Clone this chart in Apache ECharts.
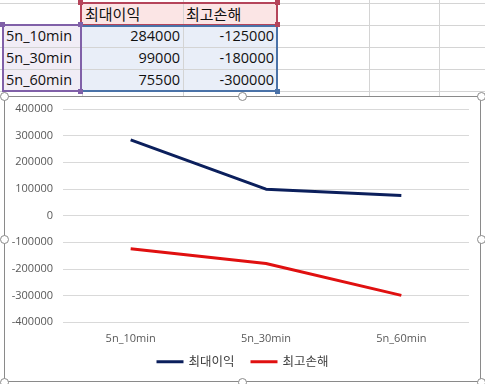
<!DOCTYPE html>
<html><head><meta charset="utf-8">
<script src="https://cdn.jsdelivr.net/npm/echarts@6/dist/echarts.min.js"></script>
<style>
html,body{margin:0;padding:0;background:#fff;width:485px;height:384px;overflow:hidden;position:relative;font-family:"Noto Sans CJK KR","Noto Sans",sans-serif;}
.h{position:absolute;left:0;width:485px;height:1px;background:#d4d4d4;}
.v{position:absolute;top:0;width:1px;height:96px;background:#d4d4d4;}
.cell{position:absolute;font-size:15px;line-height:22px;color:#111;white-space:nowrap;}
.box{position:absolute;box-sizing:border-box;border:2px solid;}
.sq{position:absolute;width:5px;height:5px;}
.hd{position:absolute;width:9px;height:9px;border-radius:50%;border:1.5px solid #8a8a8a;background:#fff;box-sizing:border-box;z-index:5;}
#chart{position:absolute;left:4px;top:96px;width:477px;height:286px;border:1.5px solid #8a8a8a;box-sizing:border-box;background:#fff;}
</style></head><body>
<div id="sheet"></div>
<div id="chart"></div>
<script>
var categories = ['5n_10min', '5n_30min', '5n_60min'];
var seriesNames = ['최대이익', '최고손해'];
var maxProfit = [284000, 99000, 75500];
var maxLoss = [-125000, -180000, -300000];

(function(){
var sheet = document.getElementById('sheet');
function add(html){ sheet.insertAdjacentHTML('beforeend', html); }
[3,25,47,69,91].forEach(function(y){ add('<div class="h" style="top:'+y+'px"></div>'); });
[82,183,276,369,439].forEach(function(x){ add('<div class="v" style="left:'+x+'px"></div>'); });
add('<div style="position:absolute;left:81px;top:3px;width:196px;height:22px;background:#fbe5e5"></div>');
add('<div style="position:absolute;left:81px;top:25px;width:196px;height:66px;background:#e9eef8"></div>');
add('<div style="position:absolute;left:3px;top:25px;width:78px;height:66px;background:#f1edf6"></div>');
[47,69].forEach(function(y){ add('<div style="position:absolute;left:3px;top:'+y+'px;width:274px;height:1px;background:#d4d4d4"></div>'); });
add('<div style="position:absolute;left:183px;top:3px;width:1px;height:88px;background:#d4d4d4"></div>');
add('<div class="cell" style="left:85px;top:3px">'+seriesNames[0]+'</div>');
add('<div class="cell" style="left:186px;top:3px">'+seriesNames[1]+'</div>');
var lf = "font-family:'Open Sans','Noto Sans',sans-serif;font-size:14.5px;";
for (var i=0;i<categories.length;i++){
  var ty = 25 + i*22;
  add('<div class="cell" style="left:6px;top:'+ty+'px;'+lf+'">'+categories[i]+'</div>');
  add('<div class="cell" style="right:'+(485-180)+'px;top:'+ty+'px;'+lf+'">'+maxProfit[i]+'</div>');
  add('<div class="cell" style="right:'+(485-274)+'px;top:'+ty+'px;'+lf+'">'+maxLoss[i]+'</div>');
}
add('<div class="box" style="left:80px;top:2px;width:198px;height:24px;border-color:#b5445a"></div>');
add('<div class="box" style="left:80px;top:25px;width:198px;height:67px;border-color:#4a72a8"></div>');
add('<div class="box" style="left:2px;top:24px;width:80px;height:68px;border-color:#8060a8"></div>');
add('<div class="sq" style="left:78px;top:0px;background:#b5445a"></div>');
add('<div class="sq" style="left:275px;top:0px;background:#b5445a"></div>');
add('<div class="sq" style="left:275px;top:22px;background:#b5445a"></div>');
add('<div class="sq" style="left:0px;top:22px;background:#8060a8"></div>');
add('<div class="sq" style="left:78px;top:22px;background:#8060a8"></div>');
add('<div class="sq" style="left:78px;top:89px;background:#8060a8"></div>');
add('<div class="sq" style="left:275px;top:89px;background:#4a72a8"></div>');
[[4,96],[242,96],[481,96],[4,239],[481,239],[4,382],[242,382],[481,382]].forEach(function(p){
  add('<div class="hd" style="left:'+(p[0]-4.5)+'px;top:'+(p[1]-4.5)+'px"></div>');
});
})();

var chart = echarts.init(document.getElementById('chart'), null, {renderer:'canvas'});
chart.setOption({
  animation:false,
  textStyle:{fontFamily:"'Noto Sans CJK KR','Noto Sans',sans-serif"},
  grid:{left:58, right:11, top:12, bottom:59},
  legend:{
    bottom:8, left:'center', icon:'rect', itemWidth:27, itemHeight:3, itemGap:16,
    textStyle:{color:'#404040', fontSize:12.5},
    data:seriesNames
  },
  xAxis:{
    type:'category', data:categories, boundaryGap:true,
    axisLine:{show:false}, axisTick:{show:false},
    axisLabel:{color:'#595959', fontSize:11, margin:11, fontFamily:"'Open Sans','Noto Sans',sans-serif"}
  },
  yAxis:{
    type:'value', min:-400000, max:400000, interval:100000,
    axisLine:{show:false}, axisTick:{show:false},
    axisLabel:{color:'#595959', fontSize:11, margin:10, fontFamily:"'Open Sans','Noto Sans',sans-serif",
      formatter:function(v){ return String(v); }},
    splitLine:{lineStyle:{color:'#d9d9d9', width:1}}
  },
  series:[
    {name:seriesNames[0], type:'line', data:maxProfit, symbol:'none', lineStyle:{color:'#0b1f5c', width:3}, itemStyle:{color:'#0b1f5c'}},
    {name:seriesNames[1], type:'line', data:maxLoss, symbol:'none', lineStyle:{color:'#e01010', width:3}, itemStyle:{color:'#e01010'}}
  ]
});
</script>
</body></html>
